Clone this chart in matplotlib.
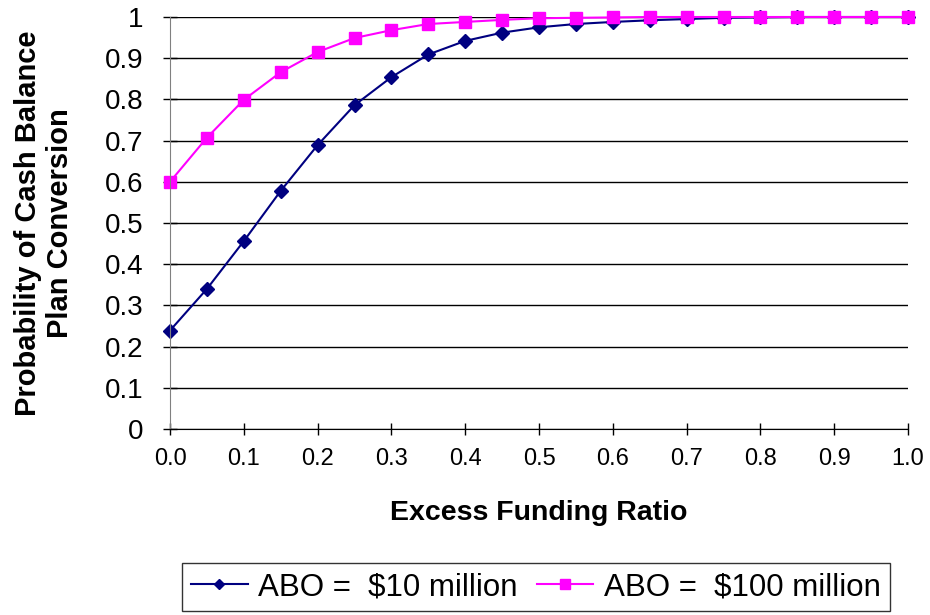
import matplotlib
matplotlib.use("Agg")
import matplotlib.pyplot as plt
import numpy as np

plt.rcParams['font.family'] = ['Liberation Sans', 'DejaVu Sans']

x_vals = [0.0, 0.05, 0.1, 0.15, 0.2, 0.25, 0.3, 0.35, 0.4, 0.45, 0.5,
          0.55, 0.6, 0.65, 0.7, 0.75, 0.8, 0.85, 0.9, 0.95, 1.0]
abo_10 = [0.239, 0.340, 0.456, 0.578, 0.689, 0.786, 0.854, 0.909, 0.942, 0.962, 0.975,
          0.983, 0.988, 0.992, 0.995, 0.998, 0.999, 1.0, 1.0, 1.0, 1.0]
abo_100 = [0.600, 0.707, 0.799, 0.866, 0.915, 0.949, 0.968, 0.983, 0.988, 0.993, 0.997,
           0.998, 0.999, 1.0, 1.0, 1.0, 1.0, 1.0, 1.0, 1.0, 1.0]
labels = ['ABO =  $10 million', 'ABO =  $100 million']
x_ticks = [0.0, 0.1, 0.2, 0.3, 0.4, 0.5, 0.6, 0.7, 0.8, 0.9, 1.0]
x_tick_labels = ['0.0', '0.1', '0.2', '0.3', '0.4', '0.5', '0.6', '0.7', '0.8', '0.9', '1.0']
y_ticks = [0, 0.1, 0.2, 0.3, 0.4, 0.5, 0.6, 0.7, 0.8, 0.9, 1.0]
y_tick_labels = ['0', '0.1', '0.2', '0.3', '0.4', '0.5', '0.6', '0.7', '0.8', '0.9', '1']

fig = plt.figure(figsize=(9.3, 6.15), dpi=100)
ax = fig.add_axes([170/930, 1-429/615, (908-170)/930, (429-17)/615])

l1, = ax.plot(x_vals, abo_10, color='#000080', marker='D', markersize=7, linewidth=1.5, label=labels[0])
l2, = ax.plot(x_vals, abo_100, color='#FF00FF', marker='s', markersize=8.5, linewidth=1.5, label=labels[1])

ax.set_xlim(0, 1.0)
ax.set_ylim(0, 1.0)
ax.set_xticks(x_ticks)
ax.set_xticklabels(x_tick_labels, fontsize=17)
ax.set_yticks(y_ticks)
ax.set_yticklabels(y_tick_labels, fontsize=20)
ax.yaxis.grid(True, color='black', linewidth=1)
ax.set_axisbelow(True)
for s in ['top', 'right']:
    ax.spines[s].set_visible(False)
ax.spines['left'].set_color('#808080')
ax.spines['bottom'].set_color('black')
ax.tick_params(axis='x', direction='inout', length=9, width=1, pad=9)
ax.tick_params(axis='y', direction='inout', length=10, width=1, color='black', pad=14)
for ln in (l1, l2):
    ln.set_clip_on(False)

ax.set_xlabel('Excess Funding Ratio', fontsize=20.5, fontweight='bold', labelpad=22)
ax.set_ylabel('Probability of Cash Balance\nPlan Conversion', fontsize=21, fontweight='bold', labelpad=22)

leg = fig.legend(handles=[l1, l2], labels=labels, loc='center',
                 bbox_to_anchor=(536/930, 1-587/615), ncol=2, fontsize=22.5,
                 frameon=True, fancybox=False, edgecolor='black',
                 handlelength=1.8, handletextpad=0.35, columnspacing=0.6,
                 borderpad=0.3, markerscale=0.8)
leg.get_frame().set_linewidth(1)

fig.savefig('out.png', dpi=100)
